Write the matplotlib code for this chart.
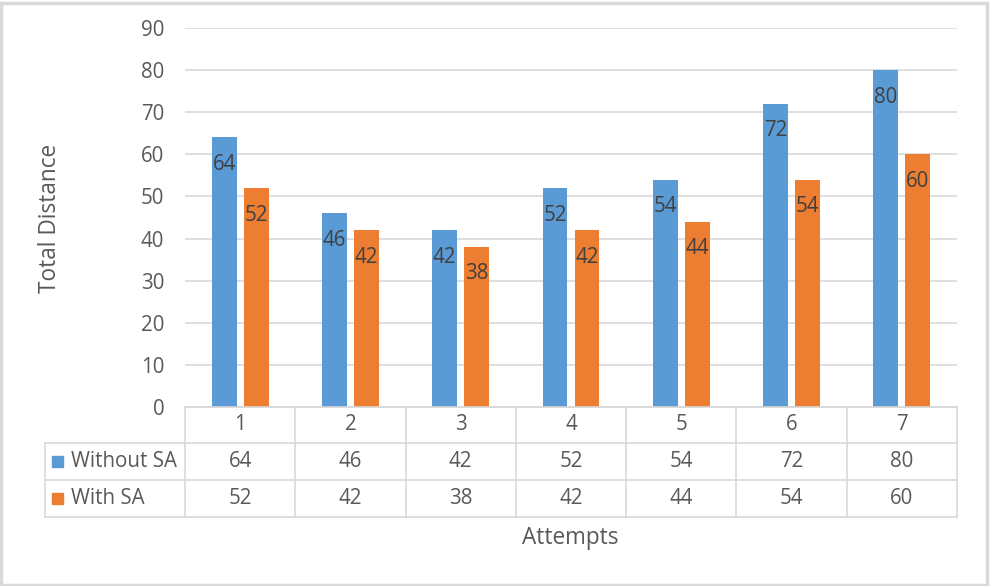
import matplotlib.pyplot as plt
import matplotlib.transforms as mtransforms
from matplotlib.patches import Rectangle
from matplotlib.lines import Line2D
import numpy as np

attempts = ["1", "2", "3", "4", "5", "6", "7"]
without_sa = [64, 46, 42, 52, 54, 72, 80]
with_sa = [52, 42, 38, 42, 44, 54, 60]
series_names = ["Without SA", "With SA"]
colors = ["#5B9BD5", "#ED7D31"]

plt.rcParams['font.family'] = ['Open Sans', 'DejaVu Sans']
txt_color = "#595959"
grid_color = "#D9D9D9"
fs = 14.8
fs_title = 16.3

W, H = 990, 586
fig = plt.figure(figsize=(W / 100, H / 100), dpi=100)

# plot area in pixels
left, right, top, bottom = 185, 957, 28, 407
ax = fig.add_axes([left / W, 1 - bottom / H, (right - left) / W, (bottom - top) / H])

x = np.arange(len(attempts))
bw = 0.225
off = 0.145
for vals, dx, c in zip([without_sa, with_sa], [-off, off], colors):
    bars = ax.bar(x + dx, vals, width=bw, color=c, zorder=3)
    for b, v in zip(bars, vals):
        ax.annotate(str(v), (b.get_x() + b.get_width() / 2, v),
                    xytext=(0, -27), textcoords="offset pixels",
                    ha="center", va="center", fontsize=fs, color="#404040", zorder=4)

ax.set_xlim(-0.5, len(attempts) - 0.5)
ax.set_ylim(0, 90)
ax.set_yticks(range(0, 91, 10))
ax.yaxis.grid(True, color=grid_color, linewidth=1.2, zorder=0)
ax.set_xticks([])
for s in ["top", "right", "left"]:
    ax.spines[s].set_visible(False)
ax.spines["bottom"].set_color(grid_color)
ax.spines["bottom"].set_linewidth(1.2)
ax.tick_params(axis="y", length=0, pad=15, labelsize=fs, labelcolor=txt_color)

# data table under the axis
tr = mtransforms.blended_transform_factory(ax.transData, fig.transFigure)
rows_px = [407, 443, 480, 517]
fy = lambda p: 1 - p / H
xl = -0.5 - (left - 45) / ((right - left) / len(attempts))

def hline(x0, x1, p):
    fig.add_artist(Line2D([x0, x1], [fy(p), fy(p)], transform=tr, color=grid_color, lw=1.2))

def vline(xx, p0, p1):
    fig.add_artist(Line2D([xx, xx], [fy(p0), fy(p1)], transform=tr, color=grid_color, lw=1.2))

hline(-0.5, len(attempts) - 0.5, rows_px[0])
for p in rows_px[1:]:
    hline(xl, len(attempts) - 0.5, p)
for i in range(len(attempts) + 1):
    vline(i - 0.5, rows_px[0], rows_px[3])
vline(xl, rows_px[1], rows_px[3])

for i, a in enumerate(attempts):
    fig.text(i, fy((rows_px[0] + rows_px[1]) / 2), a, transform=tr,
             ha="center", va="center", fontsize=fs, color=txt_color)
for r, vals in enumerate([without_sa, with_sa]):
    yc = fy((rows_px[r + 1] + rows_px[r + 2]) / 2)
    for i, v in enumerate(vals):
        fig.text(i, yc, str(v), transform=tr, ha="center", va="center",
                 fontsize=fs, color=txt_color)
    fig.add_artist(Rectangle((52 / W, yc - 5.5 / H), 11 / W, 11 / H,
                             transform=fig.transFigure, color=colors[r]))
    fig.text(71 / W, yc, series_names[r], ha="left", va="center",
             fontsize=fs, color=txt_color)

fig.text(570 / W, fy(538), "Attempts", ha="center", va="center", fontsize=fs_title, color=txt_color)
fig.text(50 / W, fy(218), "Total Distance", ha="center", va="center",
         rotation=90, fontsize=fs_title, color=txt_color)

# outer chart border
fig.add_artist(Rectangle((1 / W, 1 / H), (W - 4) / W, (H - 4) / H, transform=fig.transFigure,
                         fill=False, edgecolor="#D9D9D9", linewidth=2.5))

fig.savefig("out.png", dpi=100)
